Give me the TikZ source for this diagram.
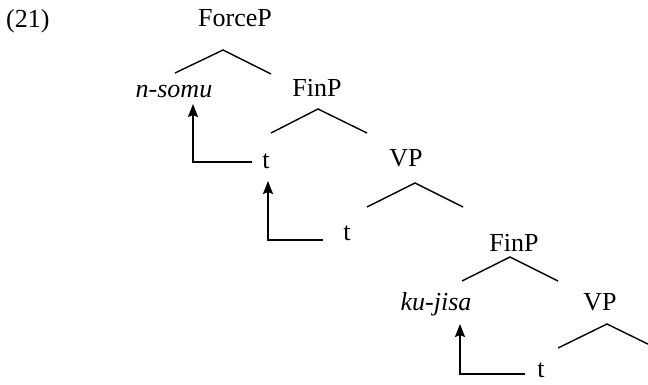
\documentclass[tikz,border=0pt]{standalone}
\usepackage{fontspec}
\setmainfont{Liberation Serif}
\usetikzlibrary{arrows.meta}
\begin{document}
\begin{tikzpicture}[x=1pt,y=-1pt,
  lbl/.style={anchor=base,inner sep=0pt,font=\fontsize{26}{30}\selectfont},
  branch/.style={line width=1.4pt},
  movearrow/.style={line width=2pt,-{Stealth[length=13pt,width=10pt,inset=2pt]}}]
\clip (0,0) rectangle (648,384);
% labels
\node[lbl,anchor=base west] (ex) at (6,27) {(21)};
\node[lbl] (force) at (235,26) {ForceP};
\node[lbl] (nsomu) at (174,97) {\itshape n-somu};
\node[lbl] (fin1) at (317,96) {FinP};
\node[lbl] (t1) at (266,168) {t};
\node[lbl] (vp1) at (406,166) {VP};
\node[lbl] (t2) at (347,240) {t};
\node[lbl] (fin2) at (514,251) {FinP};
\node[lbl] (kujisa) at (436,310) {\itshape ku-jisa};
\node[lbl] (vp2) at (600,310) {VP};
\node[lbl] (t3) at (541,377) {t};
% branch points
\coordinate (fA) at (223,50); \coordinate (fL) at (175,73); \coordinate (fR) at (271,74);
\coordinate (gA) at (318,109); \coordinate (gL) at (271,133); \coordinate (gR) at (367,133);
\coordinate (vA) at (415,183); \coordinate (vL) at (367,207); \coordinate (vR) at (463,207);
\coordinate (hA) at (510,257); \coordinate (hL) at (462,281); \coordinate (hR) at (558,281);
\coordinate (wA) at (607,324); \coordinate (wL) at (558,348); \coordinate (wR) at (656,348);
\draw[branch] (fL) -- (fA) -- (fR);
\draw[branch] (gL) -- (gA) -- (gR);
\draw[branch] (vL) -- (vA) -- (vR);
\draw[branch] (hL) -- (hA) -- (hR);
\draw[branch] (wL) -- (wA) -- (wR);
% movement arrows
\coordinate (a1s) at (252,162); \coordinate (a1c) at (193,162); \coordinate (a1e) at (193,104);
\coordinate (a2s) at (323,240); \coordinate (a2c) at (268,240); \coordinate (a2e) at (268,181);
\coordinate (a3s) at (525,374); \coordinate (a3c) at (460,374); \coordinate (a3e) at (460,324);
\draw[movearrow] (a1s) -- (a1c) -- (a1e);
\draw[movearrow] (a2s) -- (a2c) -- (a2e);
\draw[movearrow] (a3s) -- (a3c) -- (a3e);
\end{tikzpicture}
\end{document}
